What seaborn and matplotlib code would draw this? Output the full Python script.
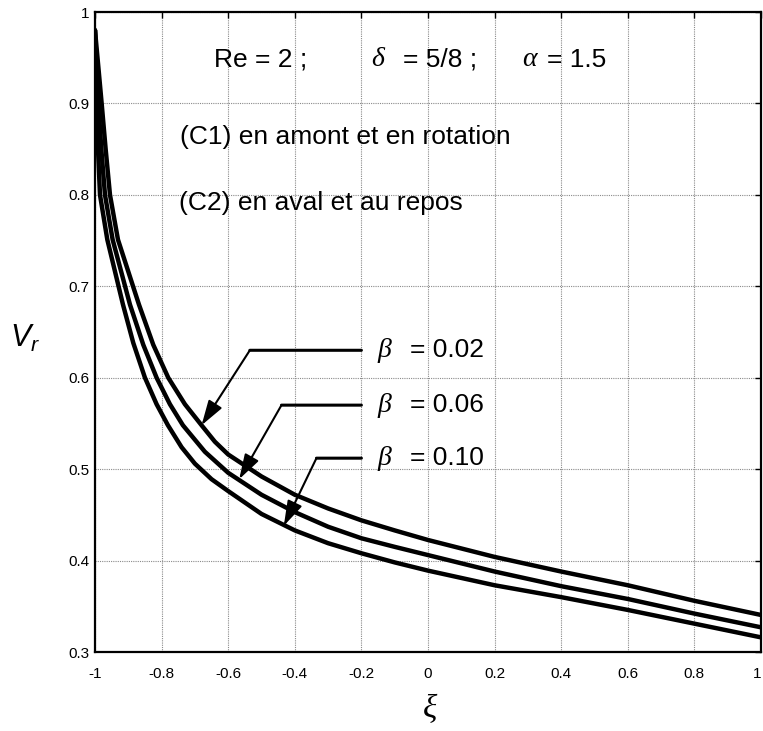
import numpy as np
import pandas as pd
import matplotlib
matplotlib.use("Agg")
import matplotlib.pyplot as plt
import seaborn as sns

# ---- data ----
beta_labels = ["0.02", "0.06", "0.10"]

x_b002 = [-1.0, -0.98, -0.968, -0.955, -0.931, -0.868, -0.825, -0.78, -0.73, -0.68, -0.64, -0.6, -0.5, -0.4, -0.3, -0.2, -0.1, 0.0, 0.2, 0.4, 0.6, 0.8, 1.0]
y_b002 = [0.980, 0.900, 0.850, 0.800, 0.751, 0.680, 0.636, 0.600, 0.571, 0.548, 0.530, 0.516, 0.492, 0.472, 0.457, 0.444, 0.433, 0.4225, 0.404, 0.388, 0.373, 0.356, 0.3405]

x_b006 = [-1.0, -0.99, -0.981, -0.97, -0.947, -0.895, -0.855, -0.815, -0.775, -0.736, -0.67, -0.6, -0.5, -0.4, -0.3, -0.2, -0.1, 0.0, 0.2, 0.4, 0.6, 0.8, 1.0]
y_b006 = [0.980, 0.900, 0.850, 0.800, 0.751, 0.680, 0.636, 0.600, 0.571, 0.548, 0.519, 0.496, 0.472, 0.453, 0.437, 0.4244, 0.415, 0.406, 0.388, 0.372, 0.358, 0.342, 0.327]

x_b010 = [-1.0, -0.997, -0.991, -0.985, -0.963, -0.916, -0.885, -0.85, -0.815, -0.781, -0.74, -0.7, -0.65, -0.6, -0.5, -0.4, -0.3, -0.2, -0.1, 0.0, 0.2, 0.4, 0.6, 0.8, 1.0]
y_b010 = [0.980, 0.900, 0.850, 0.800, 0.751, 0.680, 0.638, 0.600, 0.571, 0.548, 0.524, 0.506, 0.489, 0.476, 0.451, 0.433, 0.419, 0.408, 0.398, 0.389, 0.373, 0.360, 0.346, 0.331, 0.316]

x_ticks = [-1, -0.8, -0.6, -0.4, -0.2, 0, 0.2, 0.4, 0.6, 0.8, 1]
x_ticklabels = ["-1", "-0.8", "-0.6", "-0.4", "-0.2", "0", "0.2", "0.4", "0.6", "0.8", "1"]
y_ticks = [0.3, 0.4, 0.5, 0.6, 0.7, 0.8, 0.9, 1.0]
y_ticklabels = ["0.3", "0.4", "0.5", "0.6", "0.7", "0.8", "0.9", "1"]

df = pd.concat([
    pd.DataFrame({"xi": x_b002, "Vr": y_b002, "beta": beta_labels[0]}),
    pd.DataFrame({"xi": x_b006, "Vr": y_b006, "beta": beta_labels[1]}),
    pd.DataFrame({"xi": x_b010, "Vr": y_b010, "beta": beta_labels[2]}),
], ignore_index=True)

# ---- style ----
sns.set_style("white")
SANS = ["Liberation Sans Narrow", "Liberation Sans", "DejaVu Sans"]
SERIF = ["Liberation Serif", "DejaVu Serif"]
plt.rcParams["font.family"] = SANS
plt.rcParams["text.color"] = "black"
plt.rcParams["axes.labelcolor"] = "black"
plt.rcParams["xtick.color"] = "black"
plt.rcParams["ytick.color"] = "black"
plt.rcParams["mathtext.fontset"] = "custom"
plt.rcParams["mathtext.it"] = "Liberation Sans:italic"
plt.rcParams["mathtext.rm"] = "Liberation Sans"

W, H = 763, 731
fig = plt.figure(figsize=(W / 100, H / 100), dpi=100)
ax = fig.add_axes([95 / W, 79 / H, 666 / W, 640 / H])

sns.lineplot(data=df, x="xi", y="Vr", hue="beta", palette=["black"] * 3,
             estimator=None, sort=False, linewidth=3.2, legend=False, ax=ax,
             zorder=3)

ax.set_xlim(-1, 1)
ax.set_ylim(0.3, 1.0)
ax.set_xticks(x_ticks)
ax.set_xticklabels(x_ticklabels)
ax.set_yticks(y_ticks)
ax.set_yticklabels(y_ticklabels)
ax.set_xlabel("")
ax.set_ylabel("")
# keep the last x label inside the figure edge
ax.get_xticklabels()[-1].set_horizontalalignment("right")

ax.grid(True, color="#8a8a8a", linestyle=(0, (1, 1)), linewidth=0.8, zorder=0)
ax.set_axisbelow(True)
for s in ax.spines.values():
    s.set_visible(True)
    s.set_color("black")
    s.set_linewidth(1.6)
ax.tick_params(axis="both", direction="in", length=4, width=1, top=True, right=True,
               labelsize=11, colors="black")
ax.tick_params(axis="x", pad=11)
ax.tick_params(axis="y", pad=4)

# ---- text annotations ----
FS = 19
ax.text(-0.643, 0.9475, "Re = 2 ;", fontsize=FS, va="center", ha="left")
ax.text(-0.171, 0.9475, "δ", fontsize=FS + 1, family=SERIF, style="italic", va="center", ha="left")
ax.text(-0.076, 0.9475, "= 5/8 ;", fontsize=FS, va="center", ha="left")
ax.text(0.283, 0.9475, "α", fontsize=FS + 1, family=SERIF, style="italic", va="center", ha="left")
ax.text(0.358, 0.9475, "= 1.5", fontsize=FS, va="center", ha="left")
ax.text(-0.745, 0.863, "(C1) en amont et en rotation", fontsize=FS, va="center", ha="left")
ax.text(-0.748, 0.791, "(C2) en aval et au repos", fontsize=FS, va="center", ha="left")

# beta labels with leader lines and arrows
lab_y = [0.630, 0.570, 0.512]
corner_x = [-0.535, -0.440, -0.335]
tips = [(-0.680, 0.548), (-0.567, 0.489), (-0.433, 0.438)]
for lab, ly, cx, tip in zip(beta_labels, lab_y, corner_x, tips):
    ax.annotate("", xy=(-0.200, ly), xytext=(cx, ly),
                arrowprops=dict(arrowstyle="-", lw=2.2, color="black",
                                shrinkA=0, shrinkB=0))
    ax.annotate("", xy=tip, xytext=(cx, ly),
                arrowprops=dict(arrowstyle="-|>,head_length=0.9,head_width=0.28",
                                lw=1.5, color="black", shrinkA=0, shrinkB=0,
                                mutation_scale=17))
    ax.text(-0.151, ly, "β", fontsize=FS + 1, family=SERIF, style="italic",
            va="center", ha="left")
    ax.text(-0.055, ly, "= " + lab, fontsize=FS, va="center", ha="left")

# axis labels
fig.text(25 / W, 1 - 338 / H, "$V_r$", fontsize=22, ha="center", va="center")
fig.text(430 / W, 1 - 710 / H, "ξ", fontsize=24, family=SERIF, style="italic",
         ha="center", va="center")

fig.savefig("out.png", dpi=100)
